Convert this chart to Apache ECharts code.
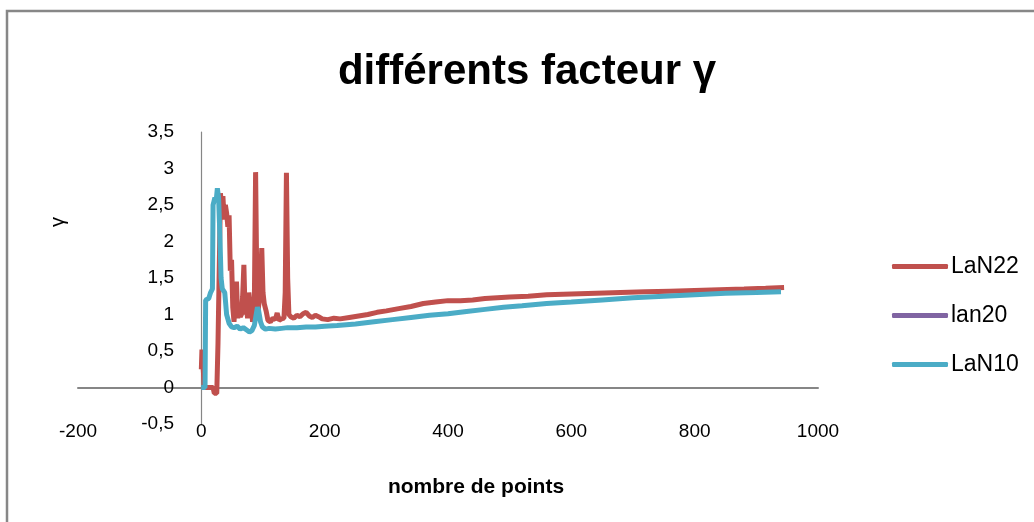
<!DOCTYPE html>
<html>
<head>
<meta charset="utf-8">
<script src="https://cdn.jsdelivr.net/npm/echarts@6/dist/echarts.min.js"></script>
<style>html,body{margin:0;padding:0;background:#fff;}#c{width:1034px;height:522px;}</style>
</head>
<body>
<div id="c"></div>
<script>
// ---- data ----
var titleText = 'différents facteur γ';
var xAxisName = 'nombre de points';
var yAxisName = 'γ';
var seriesNames = ['LaN22', 'lan20', 'LaN10'];
var seriesColors = ['#C0504D', '#8064A2', '#4BACC6'];

var xTicks = [-200, 0, 200, 400, 600, 800, 1000];
var xTickLabels = ['-200', '0', '200', '400', '600', '800', '1000'];
var yTicks = [-0.5, 0, 0.5, 1, 1.5, 2, 2.5, 3, 3.5];
var yTickLabels = ['-0,5', '0', '0,5', '1', '1,5', '2', '2,5', '3', '3,5'];

// LaN22 : [nombre de points, gamma]
var lan22 = [
  [0,0.25],[1,0.52],[4,0.52],[5,0],[19,0],[21,-0.08],[25,-0.08],[27,0.6],[29,1.6],[31,2.66],
  [33,2.45],[35,2.62],[37,2.3],[39,2.5],[41,2.39],[43,2.2],[45,2.36],[47,1.6],[49,1.75],[51,1.1],
  [53,0.9],[55,1.2],[57,1.45],[59,0.95],[61,1.1],[63,0.97],[65,1.0],[67,1.25],[69,1.68],[71,1.0],
  [73,1.1],[75,0.95],[77,1.3],[79,1.15],[81,1.2],[83,0.9],[85,1.0],[86,1.2],[88,2.95],[90,1.4],
  [92,1.05],[94,1.2],[96,1.45],[98,1.91],[100,1.3],[102,1.15],[105,1.05],[108,0.92],[112,0.9],
  [116,0.95],[120,0.93],[123,1.02],[126,0.92],[130,0.94],[134,0.95],[136,1.3],[138,2.94],[140,1.5],
  [142,1.0],[145,0.97],[150,0.95],[155,0.99],[160,0.97],[165,1.01],[170,1.03],[175,0.98],[180,0.96],
  [185,0.99],[190,0.97],[196,0.94],[205,0.93],[215,0.95],[225,0.94],[240,0.96],[255,0.98],[270,1.0],
  [285,1.03],[300,1.05],[320,1.08],[340,1.11],[360,1.15],[380,1.17],[400,1.19],[420,1.19],[440,1.2],
  [460,1.22],[480,1.23],[500,1.24],[530,1.25],[560,1.27],[600,1.28],[640,1.29],[680,1.3],[720,1.31],
  [760,1.32],[800,1.33],[840,1.34],[880,1.35],[915,1.36],[945,1.37]
];
// lan20 : no visible points in the reference
var lan20 = [];
// LaN10
var lan10 = [
  [0,0],[6,0],[7,1.2],[12,1.22],[15,1.3],[18,1.35],[19,2.5],[22,2.6],[24,2.55],[26,2.73],
  [28,2.6],[30,2.1],[32,1.5],[34,1.35],[38,1.3],[41,1.0],[45,0.88],[49,0.83],[53,0.82],[58,0.84],
  [63,0.8],[68,0.82],[73,0.79],[78,0.76],[82,0.78],[86,0.85],[89,1.0],[91,1.1],[93,1.05],[96,0.9],
  [99,0.83],[104,0.8],[110,0.81],[120,0.8],[130,0.81],[140,0.82],[155,0.82],[170,0.83],[185,0.83],
  [200,0.84],[220,0.85],[250,0.87],[280,0.9],[310,0.93],[340,0.96],[370,0.99],[400,1.01],[430,1.04],
  [460,1.07],[490,1.1],[520,1.12],[560,1.15],[600,1.17],[650,1.2],[700,1.23],[750,1.25],[800,1.27],
  [850,1.29],[900,1.3],[940,1.31]
];

var seriesData = [lan22, lan20, lan10];

function tickLabel(ticks, labels, v) {
  for (var i = 0; i < ticks.length; i++) {
    if (Math.abs(ticks[i] - v) < 1e-9) return labels[i];
  }
  return '';
}

var chart = echarts.init(document.getElementById('c'), null, {renderer: 'canvas'});
var axisColor = '#868686';
var lblFont = 'Liberation Sans, Arial, sans-serif';

var option = {
  animation: false,
  backgroundColor: '#ffffff',
  title: {
    text: titleText,
    left: 522,
    textAlign: 'center',
    top: 46,
    textStyle: {fontFamily: lblFont, fontWeight: 'bold', fontSize: 42, color: '#000'}
  },
  grid: {left: 78, right: 216, top: 132, bottom: 98, containLabel: false, outerBoundsMode: 'none'},
  legend: {
    orient: 'vertical',
    left: 887,
    top: 250,
    itemWidth: 56,
    itemHeight: 5,
    itemGap: 26,
    icon: 'roundRect',
    data: seriesNames,
    textStyle: {fontFamily: lblFont, fontSize: 23, color: '#000', padding: [0, 0, 0, -2]}
  },
  xAxis: {
    type: 'value',
    min: xTicks[0],
    max: xTicks[xTicks.length - 1],
    interval: 200,
    name: xAxisName,
    nameLocation: 'middle',
    nameGap: 53,
    nameTextStyle: {fontFamily: lblFont, fontWeight: 'bold', fontSize: 21, color: '#000', padding: [0, 0, 0, 56]},
    axisLine: {show: true, onZero: true, lineStyle: {color: axisColor, width: 2}},
    axisTick: {show: false},
    splitLine: {show: false},
    axisLabel: {margin: -2, fontFamily: lblFont, fontSize: 19, color: '#000',
      formatter: function (v) { return tickLabel(xTicks, xTickLabels, v); }}
  },
  yAxis: {
    type: 'value',
    min: yTicks[0],
    max: yTicks[yTicks.length - 1],
    interval: 0.5,
    axisLine: {show: true, onZero: true, lineStyle: {color: axisColor, width: 1.2}},
    axisTick: {show: false},
    splitLine: {show: false},
    axisLabel: {margin: -96, fontFamily: lblFont, fontSize: 19, color: '#000',
      formatter: function (v) { return tickLabel(yTicks, yTickLabels, v); }}
  },
  graphic: [
    {type: 'rect', silent: true, shape: {x: 7, y: 11, width: 1200, height: 700},
     style: {fill: 'none', stroke: '#878787', lineWidth: 2.5}},
    {type: 'text', silent: true, x: 58, y: 222, rotation: Math.PI / 2,
     style: {text: yAxisName, fontFamily: lblFont, fontSize: 20, fill: '#000', align: 'center', verticalAlign: 'middle'}}
  ],
  series: seriesNames.map(function (n, i) {
    return {
      name: n,
      type: 'line',
      data: seriesData[i],
      showSymbol: false,
      symbol: 'none',
      color: seriesColors[i],
      lineStyle: {width: 5, color: seriesColors[i]},
      z: 2 + i
    };
  })
};
chart.setOption(option);
</script>
</body>
</html>
